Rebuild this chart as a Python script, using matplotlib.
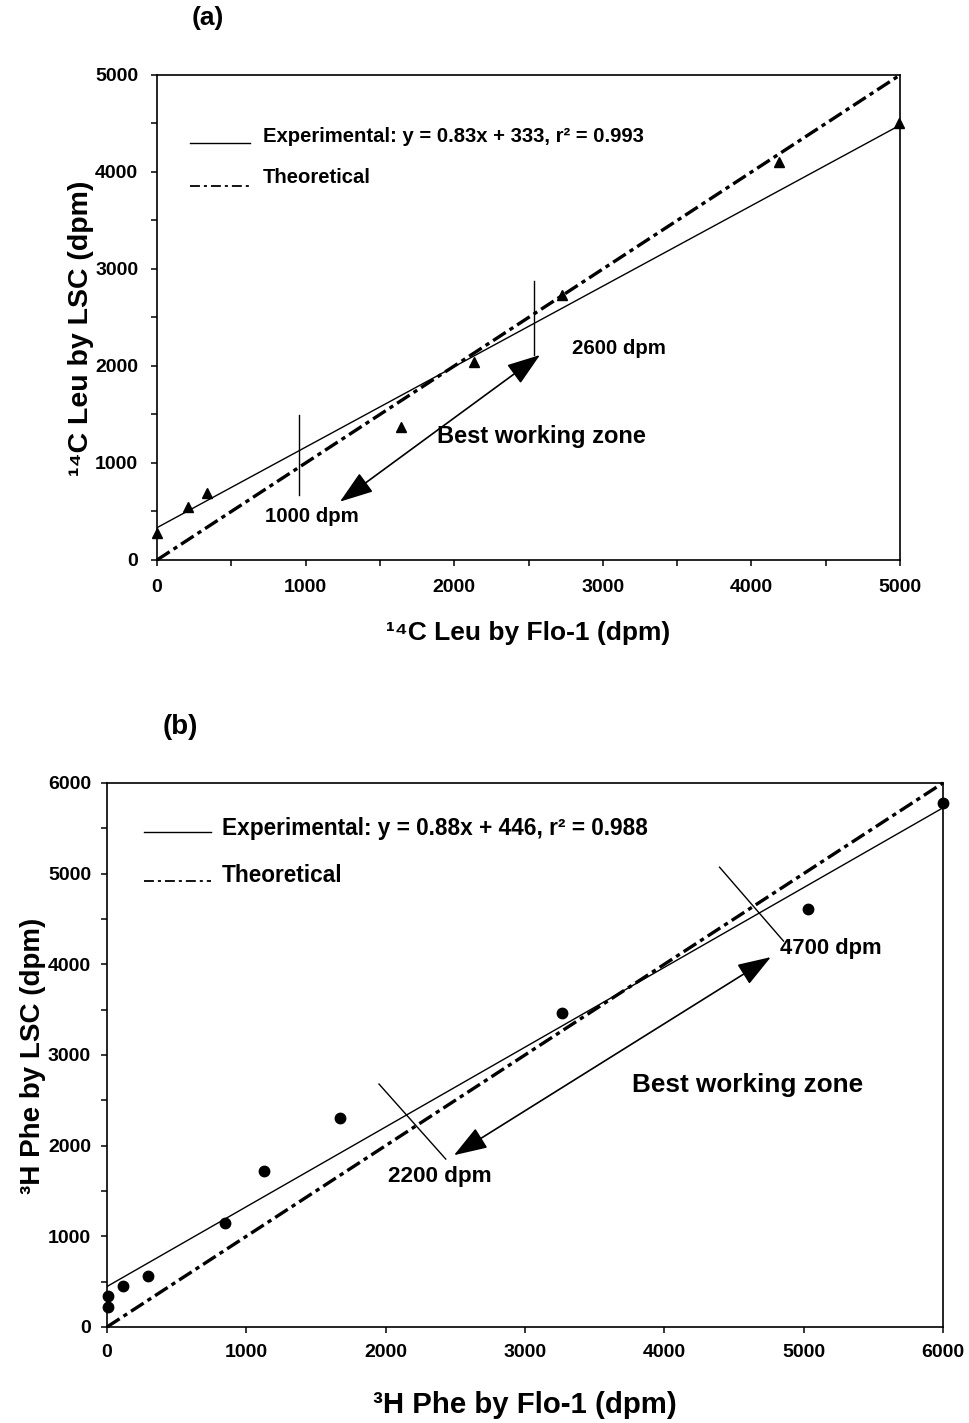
import matplotlib
matplotlib.use("Agg")
import matplotlib.pyplot as plt
from matplotlib.ticker import MultipleLocator

plt.rcParams['font.family'] = ['Liberation Sans', 'DejaVu Sans']
plt.rcParams['font.weight'] = 'bold'

# panel (a): 14C Leu
leu_flo = [0, 205, 333, 1645, 2130, 2722, 4182, 4993]
leu_lsc = [275, 543, 687, 1374, 2044, 2732, 4106, 4508]
leu_fit = (0.83, 333)
leu_range = [0, 5000]
leu_marks_x = [955, 2534]          # vertical limit lines (data units)
leu_marks_y = [[670, 1495], [2113, 2876]]
leu_arrow = [(1231, 601), (2577, 2113)]
leu_legend = ['Experimental: y = 0.83x + 333, r² = 0.993', 'Theoretical']

# panel (b): 3H Phe
phe_flo = [9, 9, 117, 297, 847, 1126, 1673, 3268, 5034, 6000]
phe_lsc = [220, 342, 457, 567, 1151, 1723, 2299, 3461, 4612, 5776]
phe_fit = (0.88, 446)
phe_range = [0, 6000]
phe_marks = [[(1952, 2679), (2431, 1852)], [(4396, 5071), (4855, 4256)]]
phe_arrow = [(2490, 1894), (4764, 4079)]
phe_legend = ['Experimental: y = 0.88x + 446, r² = 0.988', 'Theoretical']

theo_style = (0, (4.5, 1.4, 1.3, 1.4))
key_style = (0, (5.5, 2.2, 1.7, 2.2))

fig = plt.figure(figsize=(9.7, 14.23), dpi=100)
axa = fig.add_axes([0.1619, 0.6065, 0.7660, 0.3408])
axb = fig.add_axes([0.1103, 0.0675, 0.8619, 0.3823])


def base(ax, xmax, ymax, xminor, tsize, xpad, ypad):
    ax.set_xlim(0, xmax)
    ax.set_ylim(0, ymax)
    ax.xaxis.set_major_locator(MultipleLocator(1000))
    ax.yaxis.set_major_locator(MultipleLocator(1000))
    if xminor:
        ax.xaxis.set_minor_locator(MultipleLocator(500))
    ax.yaxis.set_minor_locator(MultipleLocator(500))
    ax.tick_params(which='both', direction='out', length=4.5, width=1.1, labelsize=tsize)
    ax.tick_params(axis='x', pad=xpad)
    ax.tick_params(axis='y', pad=ypad)
    for s in ax.spines.values():
        s.set_linewidth(1.2)
    for lab in ax.get_xticklabels() + ax.get_yticklabels():
        lab.set_fontweight('bold')


def arrow(ax, p0, p1):
    ax.annotate('', xy=p0, xytext=p1,
                arrowprops=dict(arrowstyle='<|-|>,head_length=1.3,head_width=0.45',
                                mutation_scale=16, lw=1.2, color='black',
                                shrinkA=0, shrinkB=0))


def key(ax, labels, x0, x1, xt, ylines, ytexts, size):
    styles = ['-', key_style]
    widths = [1.0, 1.3]
    for lab, st, w, yl, yt in zip(labels, styles, widths, ylines, ytexts):
        ax.plot([x0, x1], [yl, yl], color='black', lw=w, linestyle=st, transform=ax.transAxes)
        ax.text(xt, yt, lab, fontsize=size, ha='left', va='center', transform=ax.transAxes)


# ---- (a)
base(axa, 5000, 5000, True, 14, 9, 9)
xs = leu_range
axa.plot(xs, [leu_fit[0] * x + leu_fit[1] for x in xs], '-', color='black', lw=1.0)
axa.plot(xs, xs, color='black', lw=2.4, linestyle=theo_style, clip_on=False)
axa.plot(leu_flo, leu_lsc, '^', color='black', ms=7.5, clip_on=False)
for xm, ym in zip(leu_marks_x, leu_marks_y):
    axa.plot([xm, xm], ym, '-', color='black', lw=1.0)
arrow(axa, leu_arrow[0], leu_arrow[1])
axa.text(2793, 2175, '2600 dpm', fontsize=14.7, ha='left', va='center')
axa.text(1884, 1268, 'Best working zone', fontsize=17, ha='left', va='center')
axa.text(727, 443, '1000 dpm', fontsize=14.7, ha='left', va='center')
key(axa, leu_legend, 0.0444, 0.125, 0.1427, [0.8598, 0.771], [0.874, 0.7876], 14.6)
axa.set_xlabel('¹⁴C Leu by Flo-1 (dpm)', fontsize=19, fontweight='bold', va='center')
axa.xaxis.set_label_coords(0.5, -0.1505)
axa.set_ylabel('¹⁴C Leu by LSC (dpm)', fontsize=20.5, fontweight='bold', va='center')
axa.yaxis.set_label_coords(-0.1023, 0.478)
fig.text(208 / 970, 1 - 18 / 1423, '(a)', fontsize=19, fontweight='bold', ha='center', va='center')

# ---- (b)
base(axb, 6000, 6000, False, 14, 8, 7)
xs = phe_range
axb.plot(xs, [phe_fit[0] * x + phe_fit[1] for x in xs], '-', color='black', lw=1.0)
axb.plot(xs, xs, color='black', lw=2.4, linestyle=theo_style, clip_on=False)
axb.plot(phe_flo, phe_lsc, 'o', color='black', ms=7.5, clip_on=False)
for p, q in phe_marks:
    axb.plot([p[0], q[0]], [p[1], q[1]], '-', color='black', lw=1.0)
arrow(axb, phe_arrow[0], phe_arrow[1])
axb.text(4831, 4179, '4700 dpm', fontsize=15.8, ha='left', va='center')
axb.text(3769, 2665, 'Best working zone', fontsize=18.8, ha='left', va='center')
axb.text(2017, 1654, '2200 dpm', fontsize=16.2, ha='left', va='center')
key(axb, phe_legend, 0.0443, 0.1244, 0.1376, [0.910, 0.820], [0.9164, 0.8298], 16.3)
axb.set_xlabel('³H Phe by Flo-1 (dpm)', fontsize=21.2, fontweight='bold', va='center')
axb.xaxis.set_label_coords(0.5, -0.1434)
axb.set_ylabel('³H Phe by LSC (dpm)', fontsize=20, fontweight='bold', va='center')
axb.yaxis.set_label_coords(-0.0885, 0.498)
fig.text(180 / 970, 1 - 727 / 1423, '(b)', fontsize=20, fontweight='bold', ha='center', va='center')

fig.savefig('out.png', dpi=100)
